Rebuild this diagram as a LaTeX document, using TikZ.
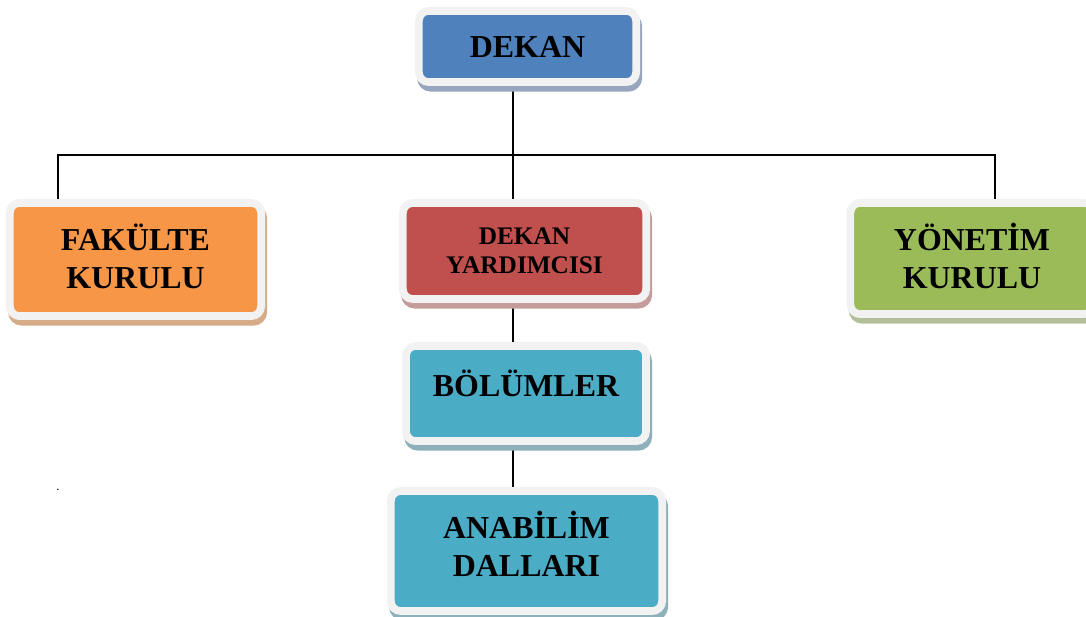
\documentclass[tikz,border=0pt]{standalone}
\usepackage{fontspec}
\setmainfont{Liberation Serif}
\usetikzlibrary{shadows,backgrounds}
\definecolor{mavi}{HTML}{4F81BD}
\definecolor{turuncu}{HTML}{F79646}
\definecolor{kirmizi}{HTML}{C0504D}
\definecolor{yesil}{HTML}{9BBB59}
\definecolor{turkuaz}{HTML}{4BACC6}
\definecolor{mavigolge}{HTML}{97A6BC}
\definecolor{turuncugolge}{HTML}{D6AC88}
\definecolor{kirmizigolge}{HTML}{C49C9A}
\definecolor{yesilgolge}{HTML}{B2BF98}
\definecolor{turkuazgolge}{HTML}{8DB0BB}
\definecolor{cerceve}{HTML}{F2F2F2}

\begin{document}
\begin{tikzpicture}[x=0.025cm,y=-0.025cm,
	kutu/.style={rectangle, rounded corners=7pt, draw=cerceve, line width=5.5pt, fill=#1,
		font=\fontsize{22.7}{27}\selectfont\bfseries, align=center, inner sep=0pt},
	golge/.style={drop shadow={shadow xshift=1.5pt, shadow yshift=-4pt, fill=#1, draw=#1, line width=5.5pt, opacity=1}},
	hat/.style={line width=1pt}]
	\useasboundingbox (0,0) rectangle (1086,617);
	\node[kutu=mavi, golge=mavigolge, minimum width=5.43cm, minimum height=1.78cm] (dekan) at (527.5,46.5) {DEKAN};
	\node[kutu=turuncu, golge=turuncugolge, minimum width=6.28cm, minimum height=2.83cm, text depth=4pt] (fk) at (135.5,259.5) {FAKÜLTE\\KURULU};
	\node[kutu=kirmizi, golge=kirmizigolge, minimum width=6.08cm, minimum height=2.4cm, font=\fontsize{18}{21}\selectfont\bfseries] (dy) at (524.5,251) {DEKAN\\YARDIMCISI};
	\node[kutu=yesil, golge=yesilgolge, minimum width=6.08cm, minimum height=2.78cm, text depth=4pt] (yk) at (972,258.5) {YÖNETİM\\KURULU};
	\node[kutu=turkuaz, golge=turkuazgolge, minimum width=6cm, minimum height=2.38cm, text depth=15pt] (bol) at (526,393.5) {BÖLÜMLER};
	\node[kutu=turkuaz, golge=turkuazgolge, minimum width=6.78cm, minimum height=3cm, text depth=10pt] (ana) at (526.5,551) {ANABİLİM\\DALLARI};
	\node[font=\small] (nokta) at (58,490) {.};
	\coordinate (omurga) at (513,155);
	\coordinate (sol) at (58,155);
	\coordinate (sag) at (995,155);
	\begin{pgfonlayer}{background}
	\draw[hat] (dekan.south -| omurga)--(dy.north -| omurga);
	\draw[hat] (fk.north -| sol)--(sol)--(sag)--(yk.north -| sag);
	\draw[hat] (dy.south -| omurga)--(bol.north -| omurga);
	\draw[hat] (bol.south -| omurga)--(ana.north -| omurga);
	\end{pgfonlayer}
\end{tikzpicture}
\end{document}
